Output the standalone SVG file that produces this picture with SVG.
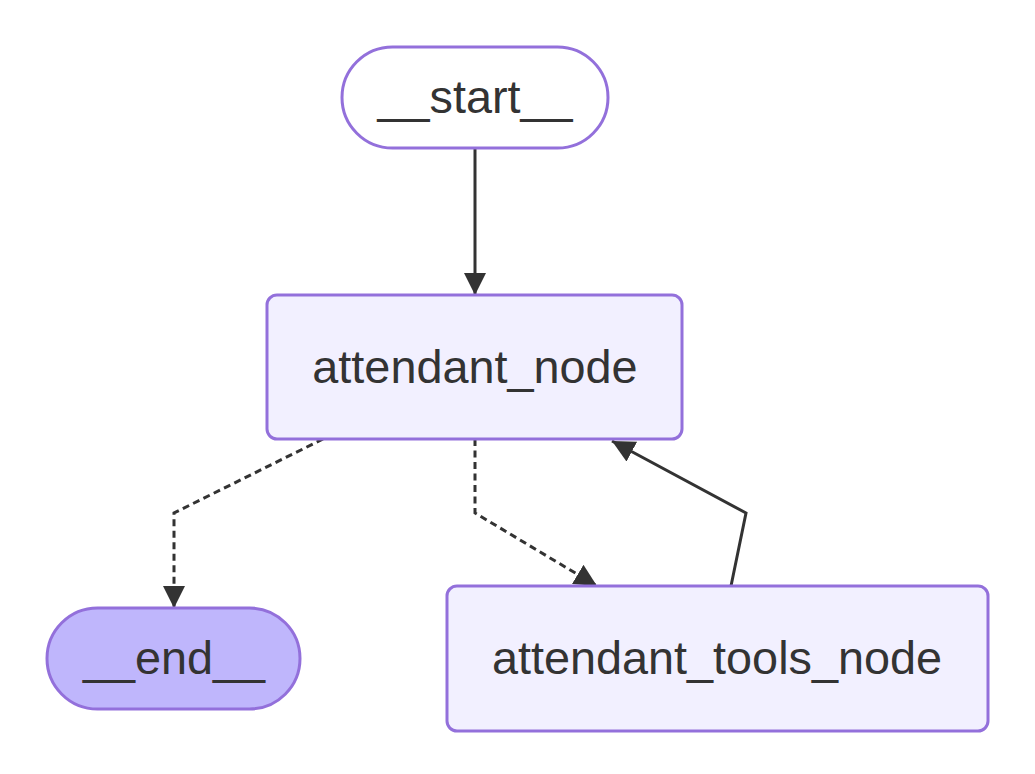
<svg xmlns="http://www.w3.org/2000/svg" width="1035" height="774" viewBox="0 0 1035 774">
<style>
.node rect{stroke:#9370DB;stroke-width:3}
.lbl{font-family:"Liberation Sans",Arial,sans-serif;font-size:46.8px;fill:#333333;text-anchor:middle;dominant-baseline:central}
.edge{fill:none;stroke:#333333;stroke-width:3}
.dash{stroke-dasharray:7,4.5}
</style>
<defs>
<marker id="arr" viewBox="0 0 10 10" refX="10" refY="5" markerWidth="7.5" markerHeight="7.5" markerUnits="strokeWidth" orient="auto">
<path d="M0,0L10,5L0,10z" fill="#333333"/>
</marker>
</defs>
<rect width="1035" height="774" fill="#ffffff"/>
<g id="connectors">
<path class="edge" d="M475,148L475,295" marker-end="url(#arr)"/>
<path class="edge dash" d="M323,439L174,513L174,608" marker-end="url(#arr)"/>
<path class="edge dash" d="M475,439L475,513L597,586" marker-end="url(#arr)"/>
<path class="edge" d="M731,586L746,513L612,441" marker-end="url(#arr)"/>
</g>
<g id="start" class="node">
<rect x="342" y="47" width="266" height="101" rx="50.5" fill="#ffffff"/>
<text class="lbl" x="475" y="97">__start__</text>
</g>
<g id="attendant_node" class="node">
<rect x="267" y="295" width="415" height="144" rx="10" fill="#f2f0ff"/>
<text class="lbl" x="475" y="367">attendant_node</text>
</g>
<g id="end" class="node">
<rect x="47" y="608" width="253" height="101" rx="50.5" fill="#bfb6fc"/>
<text class="lbl" x="174" y="658">__end__</text>
</g>
<g id="attendant_tools_node" class="node">
<rect x="447" y="586" width="541" height="145" rx="10" fill="#f2f0ff"/>
<text class="lbl" x="717" y="658">attendant_tools_node</text>
</g>
</svg>
